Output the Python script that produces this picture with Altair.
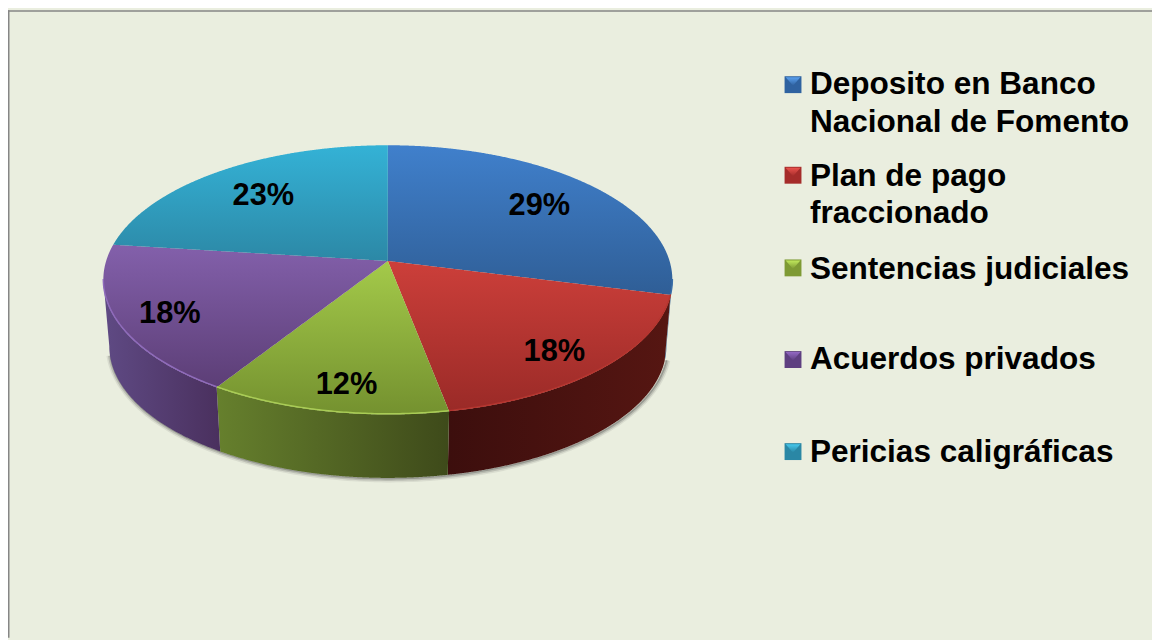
import numpy as np
import pandas as pd
import altair as alt

# ---- values
categories = ["Deposito en Banco", "Plan de pago", "Sentencias judiciales", "Acuerdos privados", "Pericias caligráficas"]
legend_lines = [["Deposito en Banco", "Nacional de Fomento"], ["Plan de pago", "fraccionado"],
                ["Sentencias judiciales"], ["Acuerdos privados"], ["Pericias caligráficas"]]
shares = [29, 18, 12, 18, 23]
label_radius = [0.732, 0.821, 0.83, 0.822, 0.722]
label_turn = [-0.8, 2.1, -1.8, -1.6, 0.2]

# ---- styles
top_grad = [("#4080CC", "#2F5E96"), ("#CC3F3A", "#9A2A27"), ("#A4CA4A", "#74912F"),
            ("#8360AB", "#5C3E76"), ("#34B2D6", "#2C88A6")]
wall_grad = [("#2E5C90", "#2E5C90"), ("#3C0E0D", "#561612"), ("#66802D", "#3E4A1A"),
             ("#5F4A84", "#4A305E"), ("#2C88A6", "#2C88A6")]
rim = ["#3A6EA8", "#B5352F", "#A9CC55", "#8F6BBB", "#34B2D6"]
swatch_main = ["#2F62A0", "#A52C2A", "#7E9A34", "#5E3F80", "#2A87A5"]
swatch_top = ["#5AA0EE", "#E8524C", "#C0E85C", "#9268C2", "#46C8EC"]
swatch_y = [85.5, 176.7, 270, 362.3, 455]
legend_baselines = [[95, 132.7], [187.7, 224.3], [280.7], [372.3], [465]]
FONT = "Liberation Sans"
LEFT, TOP, W, H = 8.0, 10.5, 1152, 632

# ---- disc geometry (top face and bottom face ellipses, with a perspective shift of the centre)
CX, CY, RX, RY = 390.5, 282, 286.5, 135.5
BX, BY, BRX, BRY = 390.5, 349, 280.5, 132.5
Y0 = -0.14


def proj(theta, r=1.0):
    u, v = r * np.sin(theta), -r * np.cos(theta)
    d = 1 + Y0 * v
    return np.sqrt(1 - Y0 ** 2) * u / d, (v + Y0) / d


def ell(theta, cx, cy, rx, ry, r=1.0):
    X, Y = proj(theta, r)
    return cx + rx * X, cy + ry * Y


def spans(px, py):
    px, py = np.asarray(px, float), np.asarray(py, float)
    lo, hi = px.min(), px.max()
    xs = np.unique(np.round(np.concatenate([px, np.arange(np.ceil(lo), hi, 1.0)]), 3))
    qx0, qy0, qx1, qy1 = px, py, np.roll(px, -1), np.roll(py, -1)
    rows = []
    for x in xs:
        mask = (np.minimum(qx0, qx1) <= x + 1e-3) & (np.maximum(qx0, qx1) >= x - 1e-3)
        a, b, c, e = qx0[mask], qy0[mask], qx1[mask], qy1[mask]
        dx = c - a
        t = np.where(np.abs(dx) > 1e-6, (x - a) / np.where(np.abs(dx) > 1e-6, dx, 1), 0)
        ys = np.concatenate([b + t * (e - b), b[np.abs(dx) <= 1e-6], e[np.abs(dx) <= 1e-6]])
        rows.append((x, round(float(ys.min()), 2), round(float(ys.max()), 2)))
    return pd.DataFrame(rows, columns=["x", "y", "y2"])


xs = alt.Scale(domain=[LEFT, LEFT + W], nice=False, zero=False)
ys = alt.Scale(domain=[TOP + H, TOP], nice=False, zero=False)
X = alt.X("x:Q", scale=xs, axis=None)
Y = alt.Y("y:Q", scale=ys, axis=None)


def grad(c0, c1, horizontal=False):
    return {"gradient": "linear", "x1": 0, "y1": 0, "x2": 1 if horizontal else 0, "y2": 0 if horizontal else 1,
            "stops": [{"offset": 0, "color": c0}, {"offset": 1, "color": c1}]}


def area(df, fill):
    return alt.Chart(df).mark_area(color=fill).encode(X, Y, y2="y2:Q")


def line(df, color, width, opacity=1.0):
    return alt.Chart(df).mark_line(color=color, strokeWidth=width, opacity=opacity).encode(
        X, Y, order=alt.Order("i:Q"))


layers = []

# frame
layers.append(alt.Chart(pd.DataFrame({"x": [LEFT], "x2": [LEFT + W], "y": [TOP + 0.7]}))
              .mark_rule(color="#868686", strokeWidth=1.5).encode(X, Y, x2="x2:Q"))
layers.append(alt.Chart(pd.DataFrame({"x": [LEFT + 0.7], "y": [TOP], "y2": [TOP + H]}))
              .mark_rule(color="#868686", strokeWidth=1.6).encode(X, Y, y2="y2:Q"))

# drop shadow below the walls
a = np.linspace(np.radians(104), np.radians(258), 160)
for grow, w, op in [(2.5, 4, 0.10), (1.5, 3, 0.20), (0.5, 2, 0.32)]:
    sx, sy = ell(a, BX + 1, BY, BRX + grow, BRY + grow)
    layers.append(line(pd.DataFrame({"x": sx.round(2), "y": sy.round(2), "i": range(len(a))}), "#444444", w, op))

fr = np.cumsum([0] + shares) / sum(shares)
bounds = fr * 2 * np.pi
front_a, front_b = np.radians(98), np.radians(262)

# walls
for i in range(5):
    t0, t1 = max(bounds[i], front_a), min(bounds[i + 1], front_b)
    if t1 <= t0:
        continue
    t = np.linspace(t0, t1, 80)
    tx, ty = ell(t, CX, CY, RX, RY)
    bx, by = ell(t[::-1], BX, BY, BRX, BRY)
    df = spans(np.r_[tx, bx], np.r_[ty, by])
    c0, c1 = wall_grad[i]
    layers.append(area(df, grad(c0, c1, True)))

# top faces
for i in range(5):
    t = np.linspace(bounds[i], bounds[i + 1], 120)
    ax, ay = ell(t, CX, CY, RX, RY)
    ox, oy = ell(0.0, CX, CY, RX, RY, 0.0)
    df = spans(np.r_[ox, ax], np.r_[oy, ay])
    c0, c1 = top_grad[i]
    layers.append(area(df, grad(c0, c1)))

# lighter rim along the front edge of the top face
for i in range(5):
    t0, t1 = max(bounds[i], front_a), min(bounds[i + 1], front_b)
    if t1 <= t0:
        continue
    t = np.linspace(t0, t1, 80)
    rx_, ry_ = ell(t, CX, CY, RX, RY)
    layers.append(line(pd.DataFrame({"x": rx_.round(2), "y": (ry_ - 0.6).round(2), "i": range(len(t))}), rim[i], 1.5))

# value labels
mid = (bounds[:-1] + bounds[1:]) / 2 + np.radians(label_turn)
lx, ly = ell(mid, CX, CY, RX, RY, np.array(label_radius))
labels = pd.DataFrame({"x": lx, "y": ly + 2, "t": [f"{s}%" for s in shares]})
layers.append(alt.Chart(labels).mark_text(font=FONT, fontWeight="bold", fontSize=31, color="black",
                                          align="center", baseline="middle").encode(X, Y, text="t:N"))

# legend swatches: a dark square with a bright bevel at the top
SX, S = 798.5, 8.5
sw = pd.DataFrame({"x": [SX] * 5, "y": swatch_y, "k": categories, "m": swatch_main})
layers.append(alt.Chart(sw).mark_point(shape="square", filled=True, size=(2 * S) ** 2, opacity=1).encode(
    X, Y, fill=alt.Fill("m:N", scale=None)))
for yc, c0, c1 in zip(swatch_y, swatch_top, swatch_main):
    df = spans([SX - S + 1, SX + S - 1, SX], [yc - S + 1, yc - S + 1, yc + 1])
    layers.append(area(df, grad(c0, c1)))

# legend text
rows = [(line_, b) for lines, bs in zip(legend_lines, legend_baselines) for line_, b in zip(lines, bs)]
txt = pd.DataFrame({"x": [815.5] * len(rows), "y": [r[1] for r in rows], "t": [r[0] for r in rows]})
layers.append(alt.Chart(txt).mark_text(font=FONT, fontWeight="bold", fontSize=31.8, color="black",
                                       align="left", baseline="alphabetic").encode(X, Y, text="t:N"))

chart = alt.layer(*layers).properties(
    width=W, height=H, padding=0, background="#EAEEDF",
    autosize=alt.AutoSizeParams(type="none"),
).configure_view(stroke=None)

chart.save("out.html", embed_options={"renderer": "svg", "actions": False})
